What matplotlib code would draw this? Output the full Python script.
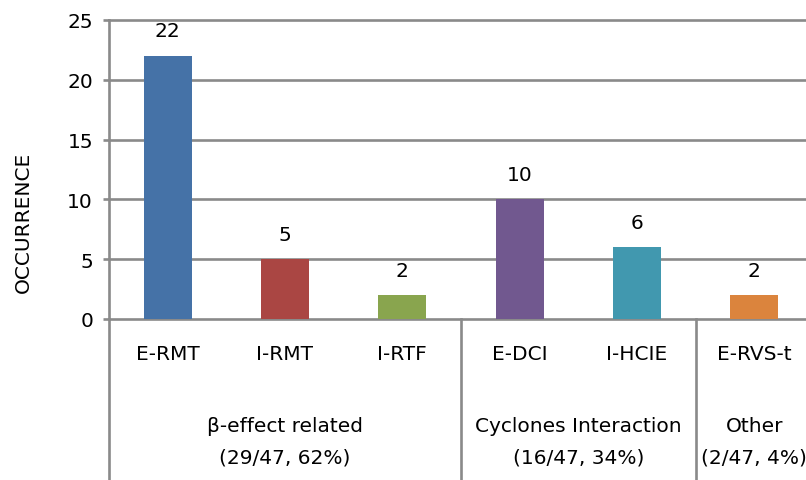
import matplotlib
matplotlib.use("Agg")
import matplotlib.pyplot as plt
from matplotlib.transforms import blended_transform_factory

plt.rcParams['font.family'] = ['DejaVu Sans']

categories = ["E-RMT", "I-RMT", "I-RTF", "E-DCI", "I-HCIE", "E-RVS-t"]
occurrence = [22, 5, 2, 10, 6, 2]
bar_colors = ["#4572A7", "#AA4643", "#89A54E", "#71588F", "#4198AF", "#DB843D"]

group_names = ["β-effect related", "Cyclones Interaction", "Other"]
group_stats = ["(29/47, 62%)", "(16/47, 34%)", "(2/47, 4%)"]
group_sizes = [3, 2, 1]

yticks = [0, 5, 10, 15, 20, 25]

FS = 14.5
W, H = 806, 481
fig = plt.figure(figsize=(W / 100, H / 100), dpi=100)
x0, y0, y1 = 109, 320, 21
ax = fig.add_axes([x0 / W, (H - y0) / H, (W - x0) / W, (y0 - y1) / H])

grid_c = "#8a8a8a"
LW = 1.9
xs = list(range(len(categories)))
ax.bar(xs, occurrence, width=0.41, color=bar_colors, zorder=3)

ax.set_ylim(0, 25)
ax.set_xlim(-0.5, -0.5 + (W - x0) / 117.3)
ax.set_yticks(yticks)
ax.set_yticklabels([str(v) for v in yticks], fontsize=FS)
ax.set_xticks([])
ax.yaxis.grid(True, color=grid_c, linewidth=LW, zorder=0)
for gl in ax.get_ygridlines():
    gl.set_clip_on(False)
ax.tick_params(axis='y', colors=grid_c, length=4.5, width=LW, labelcolor="black", pad=7)
for side in ["top", "right", "bottom"]:
    ax.spines[side].set_visible(False)
ax.spines["left"].set_color(grid_c)
ax.spines["left"].set_linewidth(LW)
ax.set_ylabel("OCCURRENCE", fontsize=FS)
ax.yaxis.set_label_coords((33 - x0) / (W - x0), (y0 - 222) / (y0 - y1))

for x, v in zip(xs, occurrence):
    ax.annotate(str(v), (x, v), xytext=(0, 18), textcoords="offset points",
                ha="center", va="center", fontsize=FS)

trans = blended_transform_factory(ax.transData, ax.transAxes)
# vertical separators between category groups, reaching below the axis
edges = [-0.5]
pos = -0.5
for n in group_sizes:
    pos += n
    edges.append(pos)
for e in edges[:-1]:
    ax.plot([e, e], [0, -0.6], transform=trans, color=grid_c, linewidth=LW,
            clip_on=False, zorder=4)

# category labels
cat_y = -(355 - y0) / (y0 - y1)
for x, c in zip(xs, categories):
    ax.text(x, cat_y, c, transform=trans, ha="center", va="center", fontsize=FS)

# group labels
start = -0.5
for name, stat, n in zip(group_names, group_stats, group_sizes):
    cx = start + n / 2
    ax.text(cx, -(427 - y0) / (y0 - y1), name, transform=trans, ha="center",
            va="center", fontsize=FS)
    ax.text(cx, -(458 - y0) / (y0 - y1), stat, transform=trans, ha="center",
            va="center", fontsize=FS)
    start += n

fig.savefig("out.png", dpi=100)
